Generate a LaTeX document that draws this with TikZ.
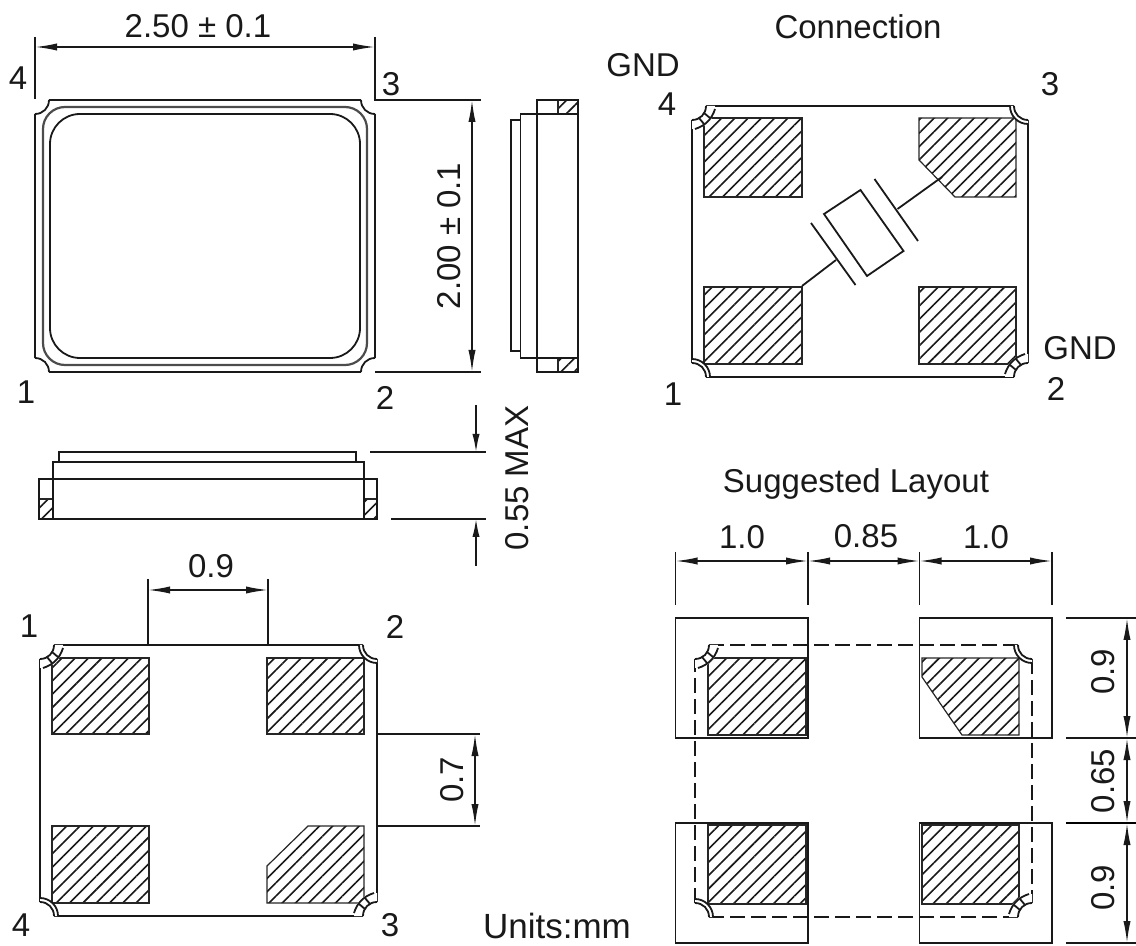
\documentclass[tikz,border=0pt]{standalone}
\usepackage{fontspec}
\setmainfont{Liberation Sans}
\usetikzlibrary{arrows.meta,patterns.meta}

\tikzset{
	part/.style = {line width = 0.9pt, black!90},
	pad/.style = {line width = 0.6pt, black!85, pattern = {Lines[angle = 45, distance = 4.7pt, line width = 0.8pt]}, pattern color = black!90},
	dim/.style = {line width = 0.8pt, black!90},
	dimarrow/.style = {dim, {Latex[length = 11pt, width = 3.6pt]}-{Latex[length = 11pt, width = 3.6pt]}},
	endarrow/.style = {dim, -{Latex[length = 9pt, width = 3.6pt]}},
	label/.style = {font = \fontsize{16.5pt}{16.5pt}\selectfont, inner sep = 0pt, black!90}
}

\newcommand{\housing}[5]{
	\draw [#5] (#1 + 14, #2) -- (#3 - 14, #2) (#3, #2 + 14) -- (#3, #4 - 14)
		(#3 - 14, #4) -- (#1 + 14, #4) (#1, #4 - 14) -- (#1, #2 + 14);
}
\newcommand{\plaincorner}[4]{
	\begin{scope}[shift = {(#1, #2)}, xscale = #3, yscale = #4]
		\draw [part] (14, 0) .. controls (14, 8) and (8, 14) .. (0, 14);
	\end{scope}
}
\newcommand{\sigcorner}[4]{
	\begin{scope}[shift = {(#1, #2)}, xscale = #3, yscale = #4]
		\fill [white] (0, 0) -- (18, 0) .. controls (18, 10) and (10, 18) .. (0, 18) -- cycle;
		\draw [part] (14, 0) .. controls (14, 8) and (8, 14) .. (0, 14);
		\draw [part] (18, 0) .. controls (18, 10) and (10, 18) .. (0, 18);
	\end{scope}
}
\newcommand{\gndcorner}[4]{
	\begin{scope}[shift = {(#1, #2)}, xscale = #3, yscale = #4]
		\fill [white] (0, 0) -- (23, 0) .. controls (23, 13) and (13, 23) .. (0, 23) -- cycle;
		\draw [part] (14, 0) .. controls (14, 8) and (8, 14) .. (0, 14);
		\draw [part] (23, 3) .. controls (20, 13) and (13, 20) .. (3, 23);
		\draw [part] (7, 12) -- (12, 18);
		\draw [part] (12, 7) -- (18, 12);
	\end{scope}
}

\begin{document}
\begin{tikzpicture}[x = 0.5pt, y = -0.5pt]
	\useasboundingbox (0, 0) rectangle (1136, 946);

	% top view
	\housing{35}{100}{375}{372}{part}
	\plaincorner{35}{100}{1}{1}
	\plaincorner{375}{100}{-1}{1}
	\plaincorner{375}{372}{-1}{-1}
	\plaincorner{35}{372}{1}{-1}
	\draw [part, black!70, line width = 1.1pt, rounded corners = 11pt] (43, 107) rectangle (367, 365);
	\draw [part, rounded corners = 15pt] (50, 114) rectangle (360, 358);

	\coordinate (w1) at (35, 47);
	\coordinate (w2) at (375, 47);
	\coordinate (h1) at (472, 100);
	\coordinate (h2) at (472, 372);
	\draw [dim] (35, 37) -- (35, 99);
	\draw [dim] (375, 37) -- (375, 100) -- (481, 100);
	\draw [dim] (375, 372) -- (481, 372);
	\draw [dimarrow] (w1) -- (w2);
	\draw [dimarrow] (h1) -- (h2);
	\node [label] (width) at (198, 26) {2.50 ± 0.1};
	\node [label, rotate = 90] (height) at (449, 236) {2.00 ± 0.1};
	\node [label] (t4) at (18, 78) {4};
	\node [label] (t3) at (391, 84) {3};
	\node [label] (t1) at (26, 392) {1};
	\node [label] (t2) at (385, 398) {2};

	% side view
	\draw [pad] (558, 100) rectangle (578, 114);
	\draw [pad] (558, 358) rectangle (578, 372);
	\draw [part] (511, 120) rectangle (520.5, 351);
	\draw [part] (520.5, 114) rectangle (578, 358);
	\draw [part] (537, 100) rectangle (578, 372);

	% front view
	\draw [pad] (39, 499) rectangle (53, 519);
	\draw [pad] (364, 499) rectangle (377, 519);
	\draw [part] (59, 452) rectangle (356, 462);
	\draw [part] (53, 462) rectangle (364, 519);
	\draw [part] (39, 479) rectangle (377, 519);

	\coordinate (m1) at (476, 405);
	\coordinate (m2) at (476, 452);
	\coordinate (m3) at (476, 566);
	\coordinate (m4) at (476, 519);
	\draw [dim] (370, 452) -- (486, 452);
	\draw [dim] (391, 519) -- (486, 519);
	\draw [endarrow] (m1) -- (m2);
	\draw [endarrow] (m3) -- (m4);
	\node [label, rotate = 90] (max) at (517, 478) {0.55 MAX};

	% bottom view
	\draw [pad] (52, 658) rectangle (149, 734);
	\draw [pad] (267, 658) rectangle (364, 734);
	\draw [pad] (52, 826) rectangle (149, 903);
	\draw [pad] (308, 826) -- (364, 826) -- (364, 903) -- (267, 903) -- (267, 866) -- cycle;
	\housing{40}{645}{377}{916}{part}
	\gndcorner{40}{645}{1}{1}
	\sigcorner{377}{645}{-1}{1}
	\gndcorner{377}{916}{-1}{-1}
	\sigcorner{40}{916}{1}{-1}

	\coordinate (p1) at (148, 590);
	\coordinate (p2) at (268, 590);
	\coordinate (g1) at (475, 734);
	\coordinate (g2) at (475, 826);
	\draw [dim] (148, 579) -- (148, 645);
	\draw [dim] (268, 579) -- (268, 645);
	\draw [dim] (377, 734) -- (480, 734);
	\draw [dim] (377, 826) -- (480, 826);
	\draw [dimarrow] (p1) -- (p2);
	\draw [dimarrow] (g1) -- (g2);
	\node [label] (pitch) at (211, 566) {0.9};
	\node [label, rotate = 90] (gap) at (452, 780) {0.7};
	\node [label] (b1) at (29, 626) {1};
	\node [label] (b2) at (395, 627) {2};
	\node [label] (b4) at (21, 925) {4};
	\node [label] (b3) at (390, 925) {3};
	\node [label, font = \fontsize{17.5pt}{17.5pt}\selectfont] (units) at (557, 926) {Units:mm};

	% connection
	\draw [pad] (704, 118) rectangle (802, 197);
	\draw [pad] (919, 118) -- (1016, 118) -- (1016, 197) -- (955, 197) -- (919, 160) -- cycle;
	\draw [pad] (704, 287) rectangle (802, 364);
	\draw [pad] (919, 287) rectangle (1016, 364);
	\housing{692}{106}{1028}{377}{part}
	\gndcorner{692}{106}{1}{1}
	\sigcorner{1028}{106}{-1}{1}
	\gndcorner{1028}{377}{-1}{-1}
	\sigcorner{692}{377}{1}{-1}

	\coordinate (x1) at (824, 214);
	\coordinate (x2) at (860.5, 190);
	\coordinate (x3) at (903.5, 251);
	\coordinate (x4) at (867, 276);
	\draw [part] (x1) -- (x2) -- (x3) -- (x4) -- cycle;
	\draw [part] (811, 223) -- (855.5, 285);
	\draw [part] (874.5, 179) -- (918, 241);
	\draw [part] (802, 286) -- (836, 260);
	\draw [part] (897.5, 209) -- (942, 177);
	\node [label] (title) at (858, 27) {Connection};
	\node [label] (gnda) at (643, 65) {GND};
	\node [label] (c4) at (667, 104) {4};
	\node [label] (c3) at (1050, 84) {3};
	\node [label] (gndb) at (1080, 348) {GND};
	\node [label] (c2) at (1056, 389) {2};
	\node [label] (c1) at (673, 394) {1};

	% suggested layout
	\draw [pad] (708, 658) rectangle (806, 735);
	\draw [pad] (922, 658) -- (1019, 658) -- (1019, 735) -- (962, 735) -- (922, 677) -- cycle;
	\draw [pad] (708, 825) rectangle (806, 904);
	\draw [pad] (922, 825) rectangle (1019, 904);
	\draw [part] (675.5, 618) rectangle (808, 738);
	\draw [part] (919.5, 618) rectangle (1052, 738);
	\draw [part] (675.5, 823) rectangle (808, 943);
	\draw [part] (919.5, 823) rectangle (1052, 943);
	\housing{695}{645}{1032}{917}{part, dash pattern = on 7.5pt off 3pt}
	\gndcorner{695}{645}{1}{1}
	\sigcorner{1032}{645}{-1}{1}
	\gndcorner{1032}{917}{-1}{-1}
	\sigcorner{695}{917}{1}{-1}

	\coordinate (l1) at (675.5, 561);
	\coordinate (l2) at (808, 561);
	\coordinate (l3) at (919.5, 561);
	\coordinate (l4) at (1052, 561);
	\coordinate (r1) at (1127, 618);
	\coordinate (r2) at (1127, 738);
	\coordinate (r3) at (1127, 823);
	\coordinate (r4) at (1127, 943);
	\draw [dim] (675.5, 552) -- (675.5, 605);
	\draw [dim] (808, 552) -- (808, 605);
	\draw [part] (919.5, 552) -- (919.5, 605);
	\draw [dim] (1052, 552) -- (1052, 605);
	\draw [dim] (1066, 618) -- (1136, 618);
	\draw [dim] (1066, 738) -- (1136, 738);
	\draw [line width = 1.3pt] (1066, 823) -- (1136, 823);
	\draw [dim] (1066, 943) -- (1136, 943);
	\draw [dimarrow] (l1) -- (l2);
	\draw [dimarrow] (l2) -- (l3);
	\draw [dimarrow] (l3) -- (l4);
	\draw [dimarrow] (r1) -- (r2);
	\draw [dimarrow] (r2) -- (r3);
	\draw [dimarrow] (r3) -- (r4);
	\node [label] (layout) at (856, 484) {Suggested Layout};
	\node [label] (la) at (742, 537) {1.0};
	\node [label] (lb) at (866, 536) {0.85};
	\node [label] (lc) at (986, 537) {1.0};
	\node [label, rotate = 90] (ra) at (1103, 672) {0.9};
	\node [label, rotate = 90] (rb) at (1103, 781) {0.65};
	\node [label, rotate = 90] (rc) at (1103, 888) {0.9};
\end{tikzpicture}
\end{document}
